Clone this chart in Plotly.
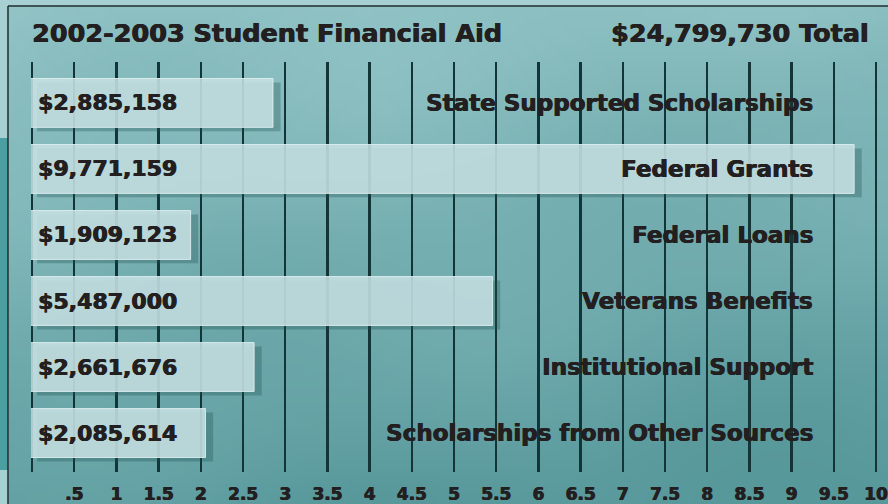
import base64, struct, zlib
import numpy as np
import plotly.graph_objects as go

# ---------------- data ----------------
categories = ["State Supported Scholarships", "Federal Grants", "Federal Loans",
              "Veterans Benefits", "Institutional Support", "Scholarships from Other Sources"]
amounts = [2885158, 9771159, 1909123, 5487000, 2661676, 2085614]
amount_labels = ["$2,885,158", "$9,771,159", "$1,909,123", "$5,487,000", "$2,661,676", "$2,085,614"]
tick_values = [0, 0.5, 1, 1.5, 2, 2.5, 3, 3.5, 4, 4.5, 5, 5.5, 6, 6.5, 7, 7.5, 8, 8.5, 9, 9.5, 10]
tick_labels = ["", ".5", "1", "1.5", "2", "2.5", "3", "3.5", "4", "4.5", "5", "5.5", "6",
               "6.5", "7", "7.5", "8", "8.5", "9", "9.5", "10"]
title_left = "2002-2003 Student Financial Aid"
title_right = "$24,799,730 Total"

millions = [a / 1e6 for a in amounts]

# ---------------- geometry ----------------
W, H = 888, 504
ML, MR, MT, MB = 31, 11, 62, 32
PW, PH = W - ML - MR, H - MT - MB

def px(x):  # pixel -> paper x
    return (x - ML) / PW

def py(y):  # pixel (from top) -> paper y
    return 1 - (y - MT) / PH

FONT = "DejaVu Sans"
INK = "#231f20"
HEAVY = "0.6px 0px 0px #231f20, -0.3px 0px 0px #231f20"

# ---------------- background texture (style only) ----------------
def make_png(arr):
    h, w, _ = arr.shape
    raw = b"".join(b"\x00" + arr[r].tobytes() for r in range(h))
    def chunk(t, d):
        c = struct.pack(">I", len(d)) + t + d
        return c + struct.pack(">I", zlib.crc32(t + d) & 0xffffffff)
    png = b"\x89PNG\r\n\x1a\n" + chunk(b"IHDR", struct.pack(">IIBBBBB", w, h, 8, 2, 0, 0, 0))
    png += chunk(b"IDAT", zlib.compress(raw, 9)) + chunk(b"IEND", b"")
    return "data:image/png;base64," + base64.b64encode(png).decode()

gw, gh = 110, 62
yy, xx = np.mgrid[0:gh, 0:gw]
u = xx / (gw - 1)
v = yy / (gh - 1)
top = np.array([0x92, 0xc4, 0xc6], float)
bot = np.array([0x57, 0x98, 0x9b], float)
t = np.clip(v * 0.85 + u * 0.18 - 0.02, 0, 1)
mott = (np.sin(u * 9.0 + v * 4.0) * np.cos(v * 7.0 - u * 3.0)) * 0.09
t = np.clip(t + mott, 0, 1)
img = (top[None, None, :] * (1 - t[..., None]) + bot[None, None, :] * t[..., None]).astype(np.uint8)
bg_src = make_png(img)

fig = go.Figure()

# shadow bars
fig.add_trace(go.Bar(
    y=categories, x=millions, base=0.06, orientation="h",
    width=0.74, offset=-0.37 + 0.06,
    marker=dict(color="rgba(30,80,82,0.32)", line=dict(width=0)),
    hoverinfo="skip", showlegend=False,
))
# main bars
fig.add_trace(go.Bar(
    y=categories, x=millions, base=-0.03, orientation="h",
    width=0.74, offset=-0.37,
    marker=dict(color="rgba(198,224,226,0.88)", line=dict(color="rgba(222,238,239,0.9)", width=1)),
    hoverinfo="skip", showlegend=False,
))

annotations = []
for cat, lab in zip(categories, amount_labels):
    annotations.append(dict(x=px(36), y=cat, xref="paper", yref="y", text=lab, showarrow=False,
                            xanchor="left", yanchor="middle",
                            font=dict(family=FONT, size=22, color=INK, weight=700, shadow=HEAVY)))
    annotations.append(dict(x=px(815), y=cat, xref="paper", yref="y", text=cat, showarrow=False,
                            xanchor="right", yanchor="middle",
                            font=dict(family=FONT, size=23, color=INK, weight=700, shadow=HEAVY)))
annotations.append(dict(x=px(30), y=py(33), xref="paper", yref="paper", text=title_left,
                        showarrow=False, xanchor="left", yanchor="middle",
                        font=dict(family=FONT, size=25.5, color=INK, weight=700, shadow=HEAVY)))
annotations.append(dict(x=px(871), y=py(33), xref="paper", yref="paper", text=title_right,
                        showarrow=False, xanchor="right", yanchor="middle",
                        font=dict(family=FONT, size=25.5, color=INK, weight=700, shadow=HEAVY)))

shapes = [
    # left outer strip (darker middle part)
    dict(type="rect", xref="paper", yref="paper", x0=px(0), x1=px(8), y0=py(470), y1=py(138),
         fillcolor="#4c9fa1", line=dict(width=0), layer="below"),
    # panel border
    dict(type="line", xref="paper", yref="paper", x0=px(8), x1=px(8), y0=py(504), y1=py(6),
         line=dict(color="#1e2b2c", width=1.5), layer="above"),
    dict(type="line", xref="paper", yref="paper", x0=px(8), x1=px(888), y0=py(6), y1=py(6),
         line=dict(color="#1e2b2c", width=1.5), layer="above"),
]

fig.update_layout(
    width=W, height=H,
    margin=dict(l=ML, r=MR, t=MT, b=MB, autoexpand=False),
    paper_bgcolor="#a6d0d2",
    plot_bgcolor="rgba(0,0,0,0)",
    barmode="overlay",
    showlegend=False,
    annotations=annotations,
    shapes=shapes,
    images=[dict(source=bg_src, xref="paper", yref="paper", x=px(8.5), y=py(6.5),
                 sizex=(W - 8.5) / PW, sizey=(H - 6.5) / PH, sizing="stretch",
                 xanchor="left", yanchor="top", layer="below")],
    xaxis=dict(range=[-0.012, 10.012], tickvals=tick_values, ticktext=tick_labels,
               showgrid=True, gridcolor="#143537", gridwidth=2.3,
               zeroline=False, showline=False, ticks="", automargin=False,
               tickfont=dict(family=FONT, size=17, color=INK, weight=700, shadow=HEAVY),
               ticklabelstandoff=10),
    yaxis=dict(type="category", range=[5.59, -0.62], showticklabels=False, automargin=False,
               showgrid=False, zeroline=False, showline=False, ticks=""),
)

fig.write_html("out.html",
               config={"displayModeBar": False, "staticPlot": True},
               post_script="document.body.style.margin='0px';"
                           "document.body.style.background='#a6d0d2';"
                           "document.body.style.overflow='hidden';")
